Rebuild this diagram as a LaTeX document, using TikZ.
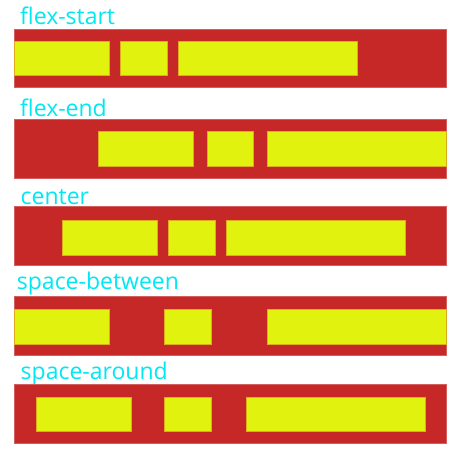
\documentclass[tikz,border=0pt]{standalone}
\usepackage{fontspec}
\newfontfamily\tagfont{Open Sans}
\definecolor{flexred}{RGB}{198,40,40}
\definecolor{flexyellow}{RGB}{225,242,15}
\definecolor{flexcyan}{RGB}{0,232,242}
\definecolor{itemedge}{RGB}{222,170,30}

\begin{document}
\begin{tikzpicture}[x=1pt, y=-1pt,
       box/.style = {fill=flexred, draw=flexred!75!white, line width=0.5pt,
                     anchor=north west, inner sep=0pt,
                     minimum width=432pt, minimum height=58.5pt},
      item/.style = {fill=flexyellow, draw=itemedge, line width=0.4pt,
                     anchor=north west, inner sep=0pt,
                     minimum height=34.5pt, minimum width=#1},
       tag/.style = {text=flexcyan, font=\tagfont\fontsize{23}{23}\selectfont,
                     anchor=base west, inner sep=0pt}
                        ]
    % page size of the reference
    \useasboundingbox[fill=white] (0,0) rectangle (462,457);

    % widths of the three items
    \def\wa{95}
    \def\wb{46.5}
    \def\wc{179}

    % flex-start
    \node (t1) at (20,25) [tag] {flex-start};
    \node (c1) at (14,29) [box] {};
    \node (a1) at (14,41) [item=\wa] {};
    \node (b1) at (120,41) [item=\wb] {};
    \node (d1) at (178,41) [item=\wc] {};

    % flex-end
    \node (t2) at (20,117) [tag] {flex-end};
    \node (c2) at (14,119) [box] {};
    \node (a2) at (98.3,131.3) [item=\wa] {};
    \node (b2) at (206.7,131.3) [item=\wb] {};
    \node (d2) at (266.7,131.3) [item=\wc] {};

    % center
    \node (t3) at (20.5,204) [tag] {center};
    \node (c3) at (14,206) [box] {};
    \node (a3) at (61.7,220) [item=\wa] {};
    \node (b3) at (168.3,220) [item=\wb] {};
    \node (d3) at (226,220) [item=\wc] {};

    % space-between
    \node (t4) at (16.7,289) [tag] {space-between};
    \node (c4) at (14,296) [box] {};
    \node (a4) at (14,309) [item=\wa] {};
    \node (b4) at (164.3,309) [item=\wb] {};
    \node (d4) at (266.7,309) [item=\wc] {};

    % space-around
    \node (t5) at (20.5,379) [tag] {space-around};
    \node (c5) at (14,384) [box] {};
    \node (a5) at (35.7,396.7) [item=\wa] {};
    \node (b5) at (164.3,396.7) [item=\wb] {};
    \node (d5) at (246,396.7) [item=\wc] {};
\end{tikzpicture}
\end{document}
